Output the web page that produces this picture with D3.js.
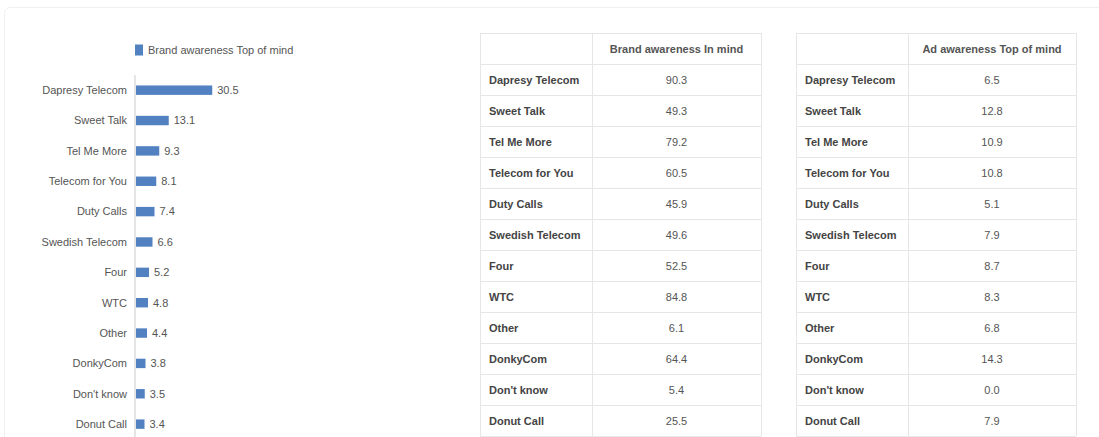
<!DOCTYPE html>
<html>
<head>
<meta charset="utf-8">
<script src="https://cdn.jsdelivr.net/npm/d3@7"></script>
<style>
  body { margin: 0; background: #fff; }
  svg { display: block; font-family: Arial, "Liberation Sans", sans-serif; }
  .cat { text-anchor: end; }
  .mid { text-anchor: middle; }
</style>
</head>
<body>
<div id="chart"></div>
<script>
// datos
const brands = ["Dapresy Telecom", "Sweet Talk", "Tel Me More", "Telecom for You", "Duty Calls",
  "Swedish Telecom", "Four", "WTC", "Other", "DonkyCom", "Don't know", "Donut Call"];
const topOfMind = [30.5, 13.1, 9.3, 8.1, 7.4, 6.6, 5.2, 4.8, 4.4, 3.8, 3.5, 3.4];
const inMind = [90.3, 49.3, 79.2, 60.5, 45.9, 49.6, 52.5, 84.8, 6.1, 64.4, 5.4, 25.5];
const adTopOfMind = [6.5, 12.8, 10.9, 10.8, 5.1, 7.9, 8.7, 8.3, 6.8, 14.3, 0.0, 7.9];
const seriesNames = ["Brand awareness Top of mind", "Brand awareness In mind", "Ad awareness Top of mind"];

const W = 1099, H = 437;
const svg = d3.select("#chart").append("svg")
  .attr("width", W)
  .attr("height", H);

// marco de la tarjeta
svg.append("rect")
  .attr("x", 4.5).attr("y", 7.5)
  .attr("width", W + 10).attr("height", H + 10)
  .attr("rx", 6)
  .attr("fill", "none")
  .attr("stroke", "#f0f0f0");

// Parte 1: gráfico de barras
const y = d3.scaleBand()
  .domain(brands)
  .range([75, 75 + 12 * 30.36])
  .paddingInner(0.69)
  .paddingOuter(0.345);

const x = d3.scaleLinear()
  .domain([0, 100])
  .range([136, 386]);

svg.append("line")
  .attr("x1", 135).attr("x2", 135)
  .attr("y1", 75).attr("y2", H)
  .attr("stroke", "#dcdcdc")
  .attr("stroke-width", 1.5);

svg.append("g").selectAll("rect")
  .data(topOfMind)
  .join("rect")
  .attr("x", x(0))
  .attr("y", (d, i) => y(brands[i]))
  .attr("width", d => x(d) - x(0))
  .attr("height", y.bandwidth())
  .attr("fill", "#5181c1");

svg.append("g")
  .attr("text-anchor", "end")
  .selectAll("text")
  .data(brands)
  .join("text")
  .attr("class", "cat")
  .attr("x", 127)
  .attr("y", d => y(d) + y.bandwidth() / 2)
  .attr("dy", "0.35em")
  .attr("text-anchor", "end")
  .attr("font-size", 11)
  .attr("fill", "#555")
  .text(d => d);

svg.append("g").selectAll("text")
  .data(topOfMind)
  .join("text")
  .attr("x", d => x(d) + 5)
  .attr("y", (d, i) => y(brands[i]) + y.bandwidth() / 2)
  .attr("dy", "0.35em")
  .attr("font-size", 11)
  .attr("fill", "#555")
  .text(d => d.toFixed(1));

// leyenda
svg.append("rect")
  .attr("x", 135).attr("y", 44.5)
  .attr("width", 8).attr("height", 11)
  .attr("fill", "#5181c1");
svg.append("text")
  .attr("x", 148).attr("y", 50)
  .attr("dy", "0.35em")
  .attr("font-size", 11)
  .attr("fill", "#555")
  .text(seriesNames[0]);

// Parte 2: tablas
function drawTable(left, mid, right, title, values) {
  const rows = [""].concat(brands);
  const ry = d3.scaleBand()
    .domain(d3.range(rows.length))
    .range([33, 33 + 31 * rows.length]);
  const g = svg.append("g");

  // líneas horizontales
  g.append("g").selectAll("line")
    .data(d3.range(rows.length + 1))
    .join("line")
    .attr("x1", left).attr("x2", right)
    .attr("y1", d => Math.round(33 + d * ry.step()) + 0.5)
    .attr("y2", d => Math.round(33 + d * ry.step()) + 0.5)
    .attr("stroke", "#e6e6e6");

  // líneas verticales
  g.append("g").selectAll("line")
    .data([left, mid, right])
    .join("line")
    .attr("x1", d => d + 0.5).attr("x2", d => d + 0.5)
    .attr("y1", 33).attr("y2", 33 + ry.step() * rows.length)
    .attr("stroke", "#e6e6e6");

  g.append("text")
    .attr("class", "mid")
    .attr("x", (mid + right) / 2)
    .attr("y", ry(0) + ry.bandwidth() / 2 + 1)
    .attr("dy", "0.35em")
    .attr("text-anchor", "middle")
    .attr("font-size", 11)
    .attr("font-weight", "bold")
    .attr("fill", "#555")
    .text(title);

  g.append("g").selectAll("text")
    .data(brands)
    .join("text")
    .attr("x", left + 9)
    .attr("y", (d, i) => ry(i + 1) + ry.bandwidth() / 2 + 1)
    .attr("dy", "0.35em")
    .attr("font-size", 11)
    .attr("font-weight", "bold")
    .attr("fill", "#444")
    .text(d => d);

  g.append("g").selectAll("text")
    .data(values)
    .join("text")
    .attr("class", "mid")
    .attr("x", (mid + right) / 2)
    .attr("y", (d, i) => ry(i + 1) + ry.bandwidth() / 2 + 1)
    .attr("dy", "0.35em")
    .attr("text-anchor", "middle")
    .attr("font-size", 11)
    .attr("fill", "#555")
    .text(d => d.toFixed(1));
}

drawTable(480, 592, 761, seriesNames[1], inMind);
drawTable(796, 908, 1076, seriesNames[2], adTopOfMind);
</script>
</body>
</html>
